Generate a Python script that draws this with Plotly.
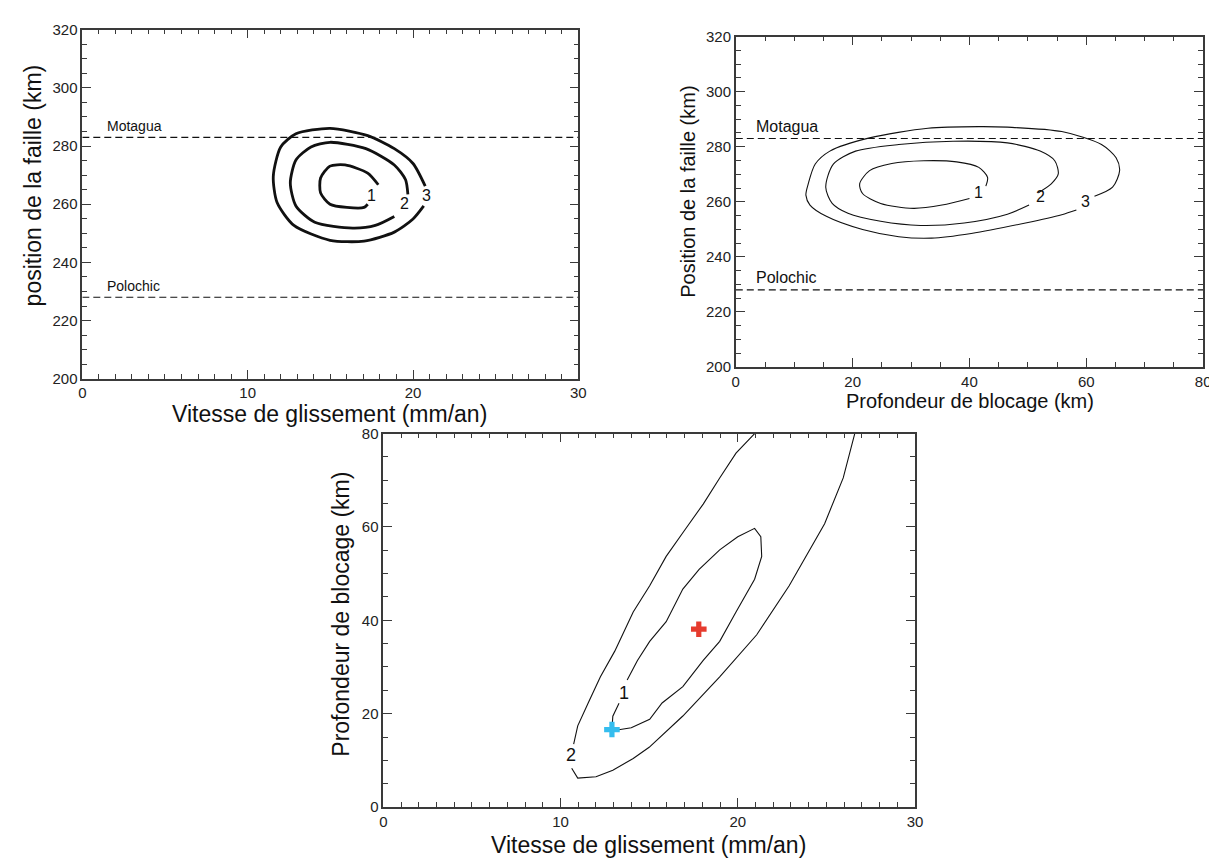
import plotly.graph_objects as go

# ---------------- Data ----------------
# Panel 1 : slip rate (mm/an) vs fault position (km)
p1_c1_x = [17.9, 17.26, 15.89, 14.98, 14.41, 14.41, 14.98, 16.0, 17.04, 17.26]
p1_c1_y = [266.7, 270.7, 273.5, 273.1, 269.0, 263.9, 260.0, 258.9, 258.9, 260.0]
p1_c2_x = [19.69, 19.55, 18.87, 17.15, 14.98, 13.83, 12.92, 12.58, 12.92, 14.06, 16.35, 17.72, 18.87]
p1_c2_y = [263.4, 268.4, 273.5, 279.1, 281.3, 279.7, 275.2, 267.3, 259.4, 253.8, 251.8, 252.7, 255.8]
p1_c3_x = [20.74, 20.0, 18.87, 17.26, 14.98, 12.92, 12.0, 11.55, 11.78, 12.8, 14.98, 17.04, 18.87, 20.0, 20.65]
p1_c3_y = [266.2, 274.0, 279.1, 283.6, 286.1, 284.2, 279.7, 269.6, 260.6, 252.7, 247.6, 247.3, 250.4, 254.9, 259.4]
p1_labels = ["1", "2", "3"]
p1_label_x = [17.5, 19.5, 20.8]
p1_label_y = [263.1, 260.3, 263.0]

# Panel 2 : locking depth (km) vs fault position (km)
p2_c1_x = [42.8, 43.1, 41.6, 37.8, 32.2, 26.7, 22.9, 21.2, 21.7, 24.8, 30.4, 35.3, 40.0]
p2_c1_y = [265.7, 268.9, 272.5, 274.5, 274.9, 273.9, 271.3, 266.5, 263.0, 259.4, 257.6, 258.8, 261.2]
p2_c2_x = [51.8, 54.0, 55.2, 54.6, 52.1, 46.5, 37.2, 27.9, 20.5, 16.7, 15.4, 16.5, 19.2, 24.8, 31.6, 39.1, 46.5, 50.2]
p2_c2_y = [263.3, 266.5, 270.1, 274.9, 278.4, 281.4, 282.0, 280.8, 278.4, 273.7, 265.3, 259.4, 255.8, 252.9, 251.4, 252.3, 255.5, 258.8]
p2_c3_x = [61.4, 64.5, 65.7, 65.1, 62.6, 55.8, 46.5, 41.6, 32.9, 22.9, 16.1, 13.6, 12.4, 12.0, 12.7, 15.5, 21.7, 27.9, 33.5, 40.3, 49.6, 55.8, 58.3]
p2_c3_y = [262.0, 265.3, 271.3, 276.0, 280.8, 285.5, 287.1, 287.3, 286.7, 283.2, 278.4, 273.7, 266.5, 262.4, 258.8, 254.7, 249.9, 247.3, 246.8, 248.5, 252.3, 255.3, 257.0]
p2_labels = ["1", "2", "3"]
p2_label_x = [41.6, 52.1, 59.8]
p2_label_y = [263.3, 262.0, 260.0]

# Fault traces (position, km)
fault_names = ["Motagua", "Polochic"]
fault_pos = [283, 228]

# Panel 3 : slip rate (mm/an) vs locking depth (km)
p3_c1a_x = [12.9, 12.95, 13.3]
p3_c1a_y = [16.65, 19.45, 22.25]
p3_c1b_x = [13.76, 14.34, 15.03, 15.96, 16.9, 17.82, 18.98, 20.0, 20.95, 21.3, 21.35, 20.95, 19.9, 18.98, 18.05, 16.9, 15.73, 15.03, 13.99, 13.2, 12.9]
p3_c1b_y = [27.2, 31.4, 35.5, 39.7, 46.7, 50.9, 55.1, 57.9, 59.7, 57.9, 53.7, 48.8, 41.8, 35.5, 31.4, 25.8, 22.3, 18.8, 17.0, 16.5, 16.65]
p3_c2a_x = [20.95, 19.9, 18.98, 18.05, 17.0, 15.96, 15.03, 14.1, 13.06, 12.25, 11.56, 10.97, 10.74]
p3_c2a_y = [80.0, 75.8, 70.5, 64.9, 59.3, 53.7, 47.4, 41.8, 33.4, 27.9, 22.3, 17.4, 13.5]
p3_c2b_x = [10.63, 10.97, 12.0, 12.95, 14.1, 15.0, 16.9, 18.98, 21.07, 22.9, 24.9, 25.95, 26.6]
p3_c2b_y = [8.3, 6.2, 6.5, 7.9, 10.4, 12.8, 19.5, 27.9, 36.9, 47.4, 60.7, 70.5, 80.0]
p3_labels = ["1", "2"]
p3_label_x = [13.6, 10.6]
p3_label_y = [24.4, 11.1]
best_fit_x = [17.8]
best_fit_y = [38.1]
alt_fit_x = [12.9]
alt_fit_y = [16.6]

# ---------------- Figure ----------------
W, H = 1217, 859
fig = go.Figure()

BLACK = "#111111"
thick = dict(color=BLACK, width=2.8)
thin = dict(color=BLACK, width=1.1)

for xs, ys in [(p1_c1_x, p1_c1_y), (p1_c2_x, p1_c2_y), (p1_c3_x, p1_c3_y)]:
    fig.add_trace(go.Scatter(x=xs, y=ys, mode="lines", line=dict(thick, shape="spline", smoothing=0.7),
                             xaxis="x", yaxis="y", showlegend=False, hoverinfo="skip"))
for xs, ys in [(p2_c1_x, p2_c1_y), (p2_c2_x, p2_c2_y), (p2_c3_x, p2_c3_y)]:
    fig.add_trace(go.Scatter(x=xs, y=ys, mode="lines", line=dict(thin, shape="spline", smoothing=0.8),
                             xaxis="x2", yaxis="y2", showlegend=False, hoverinfo="skip"))
for xs, ys in [(p3_c1a_x, p3_c1a_y), (p3_c1b_x, p3_c1b_y), (p3_c2a_x, p3_c2a_y), (p3_c2b_x, p3_c2b_y)]:
    fig.add_trace(go.Scatter(x=xs, y=ys, mode="lines", line=thin,
                             xaxis="x3", yaxis="y3", showlegend=False, hoverinfo="skip"))

# fault dashed lines
for ax, xr in [("", [0, 30]), ("2", [0, 80])]:
    for pos in fault_pos:
        fig.add_trace(go.Scatter(x=xr, y=[pos, pos], mode="lines",
                                 line=dict(color=BLACK, width=1.1, dash="7px,4px"),
                                 xaxis="x" + ax, yaxis="y" + ax, showlegend=False, hoverinfo="skip"))

# crosses
fig.add_trace(go.Scatter(x=best_fit_x, y=best_fit_y, mode="markers",
                         marker=dict(symbol="cross", size=13, color="#e63b2e", line=dict(width=0)),
                         xaxis="x3", yaxis="y3", showlegend=False))
fig.add_trace(go.Scatter(x=alt_fit_x, y=alt_fit_y, mode="markers",
                         marker=dict(symbol="cross", size=13, color="#35bdee", line=dict(width=0)),
                         xaxis="x3", yaxis="y3", showlegend=False))

ann = []
lab_font = dict(family="Liberation Sans, Arial, sans-serif", color=BLACK)
for t, x, y in zip(p1_labels, p1_label_x, p1_label_y):
    ann.append(dict(text=t, x=x, y=y, xref="x", yref="y", showarrow=False,
                    xanchor="center", yanchor="middle", font=dict(lab_font, size=16)))
for t, x, y in zip(p2_labels, p2_label_x, p2_label_y):
    ann.append(dict(text=t, x=x, y=y, xref="x2", yref="y2", showarrow=False,
                    xanchor="center", yanchor="middle", font=dict(lab_font, size=16)))
for t, x, y in zip(p3_labels, p3_label_x, p3_label_y):
    ann.append(dict(text=t, x=x, y=y, xref="x3", yref="y3", showarrow=False,
                    xanchor="center", yanchor="middle", font=dict(lab_font, size=18)))

# fault name labels
for name, pos in zip(fault_names, fault_pos):
    ann.append(dict(text=name, x=1.4, y=pos + 0.6, xref="x", yref="y", xanchor="left", yanchor="bottom",
                    showarrow=False, font=dict(lab_font, size=14)))
    ann.append(dict(text=name, x=3.2, y=pos + 0.6, xref="x2", yref="y2", xanchor="left", yanchor="bottom",
                    showarrow=False, font=dict(lab_font, size=16)))

# axis titles (pixel-placed)
def px(x):
    return x / W

def py(y):
    return 1 - y / H

title_family = "Liberation Sans, Arial, sans-serif"
titles = [
    ("Vitesse de glissement (mm/an)", 321, 405, 0, 23),
    ("position de la faille (km)", 21, 172, -90, 23),
    ("Profondeur de blocage (km)", 968, 392, 0, 20),
    ("Position de la faille (km)", 683, 178, -90, 20),
    ("Vitesse de glissement (mm/an)", 643, 845, 0, 23),
    ("Profondeur de blocage (km)", 332, 609, -90, 23),
]
for t, x, y, ang, sz in titles:
    ann.append(dict(text=t, x=px(x), y=py(y), xref="paper", yref="paper", showarrow=False,
                    xanchor="center", yanchor="middle", textangle=ang,
                    font=dict(family=title_family, size=sz, color=BLACK)))

AX = "#3a3a3a"
tick_font = dict(family="Liberation Sans Narrow, Arial Narrow, Liberation Sans, Arial, sans-serif",
                 size=15, color="#222222")

def axis(rng, dtick, mdtick, domain, anchor):
    return dict(range=rng, dtick=dtick, domain=domain, anchor=anchor,
                showline=True, linecolor=AX, linewidth=1.5, mirror="ticks",
                ticks="inside", ticklen=9, tickwidth=1.3, tickcolor=AX,
                minor=dict(dtick=mdtick, ticks="inside", ticklen=5, tickwidth=1.1, tickcolor=AX),
                showgrid=False, zeroline=False, tickfont=tick_font, fixedrange=True)

fig.update_layout(
    width=W, height=H,
    margin=dict(l=0, r=0, t=0, b=0),
    paper_bgcolor="white", plot_bgcolor="white",
    xaxis=axis([0, 30], 10, 1, [px(71), px(572)], "y"),
    yaxis=axis([200, 320], 20, 5, [py(369), py(13)], "x"),
    xaxis2=axis([0, 80], 20, 5, [px(731), px(1203)], "y2"),
    yaxis2=axis([200, 320], 20, 5, [py(357), py(20)], "x2"),
    xaxis3=axis([0, 30], 10, 1, [px(375), px(912)], "y3"),
    yaxis3=axis([0, 80], 20, 5, [py(806), py(425)], "x3"),
    annotations=ann,
)

fig.write_html("out.html")
